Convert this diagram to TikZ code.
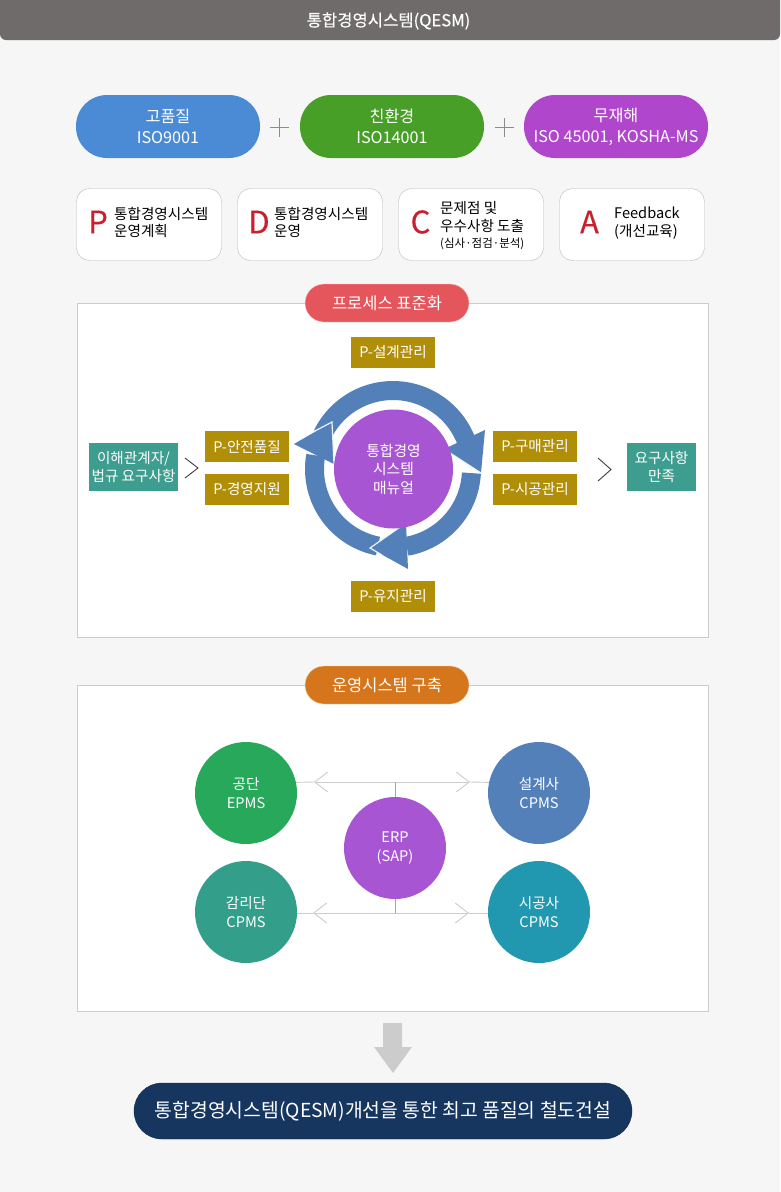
\documentclass[tikz,border=0pt]{standalone}
\usepackage{fontspec}
\setmainfont{Noto Sans CJK KR}
\newfontfamily\heavyfont[FakeBold=0.35]{Noto Sans CJK KR}
\usetikzlibrary{arrows.meta}
\definecolor{pagebg}{HTML}{F6F6F6}
\definecolor{headbar}{HTML}{6F6B6B}
\definecolor{pillblue}{HTML}{4B8BD6}
\definecolor{pillgreen}{HTML}{479F27}
\definecolor{pillpurple}{HTML}{B046CC}
\definecolor{pillred}{HTML}{E5565C}
\definecolor{pillorange}{HTML}{D5761C}
\definecolor{pillnavy}{HTML}{163660}
\definecolor{letterred}{HTML}{C8202F}
\definecolor{goldbox}{HTML}{B08E08}
\definecolor{tealbox}{HTML}{3D9D8E}
\definecolor{ringblue}{HTML}{5480BA}
\definecolor{corepurple}{HTML}{A855D3}
\definecolor{circgreen}{HTML}{27A85A}
\definecolor{circteal}{HTML}{339E8A}
\definecolor{circcyan}{HTML}{2298B0}
\definecolor{panelline}{HTML}{CCCCCC}
\definecolor{ringedge}{HTML}{EAF6FB}
\newcommand{\pxfont}[1]{\fontsize{#1}{#1}\selectfont}
\tikzset{
	pill/.style={fill=#1,text=white,minimum width=184pt,minimum height=63pt,rounded corners=31pt,inner sep=0pt,align=center,font=\fontsize{16.2}{21}\selectfont},
	tagpill/.style={fill=#1,draw=white!70!#1,text=white,minimum width=164pt,minimum height=38pt,rounded corners=19pt,inner sep=0pt,font=\pxfont{16.5}},
	pdcabox/.style={fill=white,draw=black!28,minimum width=145pt,minimum height=72pt,rounded corners=13pt,inner sep=0pt},
	pdcaletter/.style={text=letterred,inner sep=0pt,font=\heavyfont\pxfont{31}},
	pdcatext/.style={text=black,inner sep=0pt,align=left,font=\fontsize{14.6}{17.5}\selectfont},
	panel/.style={fill=white,draw=panelline,inner sep=0pt},
	goldtag/.style={fill=goldbox,text=white,minimum width=84pt,minimum height=31pt,inner sep=0pt,font=\pxfont{14.6}},
	tealtag/.style={fill=tealbox,text=white,minimum height=48pt,inner sep=0pt,align=center,font=\fontsize{14.6}{18}\selectfont},
	orgcirc/.style={circle,fill=#1,text=white,minimum size=102pt,inner sep=0pt,align=center,font=\fontsize{14.6}{19}\selectfont},
	ringarc/.style={draw=ringblue,line width=19pt},
	ringhead/.style={fill=ringblue},
	ringflash/.style={draw=ringedge,line width=1.2pt},
	plusline/.style={draw=black!45,line width=.8pt},
	chevline/.style={draw=black!75,line width=.9pt},
	linkline/.style={draw=panelline,line width=.9pt},
	linkarrow/.style={linkline,-{Straight Barb[length=13pt,width=20pt,line width=.9pt]}},
	stemline/.style={draw=black!35,line width=.9pt}
}
\begin{document}
\begin{tikzpicture}[x=1pt,y=-1pt]
	\useasboundingbox[fill=pagebg] (0,0) rectangle (780,1192);
	\fill[headbar,rounded corners=6pt] (0,-10) rectangle (780,40);
	\node[text=white,inner sep=0pt,font=\heavyfont\pxfont{16.6}] (title) at (388.5,21) {통합경영시스템(QESM)};

	\node[pill=pillblue] (quality) at (168,126.5) {고품질\\ISO9001};
	\node[pill=pillgreen] (enviro) at (392,126.5) {친환경\\ISO14001};
	\node[pill=pillpurple] (safety) at (616,126.5) {무재해\\ISO 45001, KOSHA-MS};
	\draw[plusline] (270,127) -- (289,127) (279.5,118) -- (279.5,137);
	\draw[plusline] (495,127) -- (514,127) (504.5,118) -- (504.5,137);

	\node[pdcabox] (boxp) at (149,224.5) {};
	\node[pdcabox] (boxd) at (310,224.5) {};
	\node[pdcabox] (boxc) at (471,224.5) {};
	\node[pdcabox] (boxa) at (632,224.5) {};
	\node[pdcaletter] (letp) at (98,222) {P};
	\node[pdcaletter] (letd) at (259,222) {D};
	\node[pdcaletter] (letc) at (420.5,222) {C};
	\node[pdcaletter] (leta) at (589.5,222) {A};
	\node[pdcatext,anchor=west] (textp) at (114,222.5) {통합경영시스템\\운영계획};
	\node[pdcatext,anchor=west] (textd) at (274,222.5) {통합경영시스템\\운영};
	\node[pdcatext,anchor=west] (textc) at (440,225.5) {문제점 및\\[1pt]우수사항 도출\\[-2pt]{\pxfont{11.5}(심사·점검·분석)}};
	\node[pdcatext,anchor=west] (texta) at (614,223) {Feedback\\(개선교육)};

	\node[panel,minimum width=631pt,minimum height=334pt] (procpanel) at (393,470.5) {};
	\node[tagpill=pillred] (proctag) at (387,303) {프로세스 표준화};
	\node[goldtag] (design) at (393,352.5) {P-설계관리};
	\node[goldtag] (safe) at (247,446.5) {P-안전품질};
	\node[goldtag] (support) at (247,489.5) {P-경영지원};
	\node[goldtag] (purchase) at (535,446.5) {P-구매관리};
	\node[goldtag] (build) at (535,489.5) {P-시공관리};
	\node[goldtag] (upkeep) at (393,596.5) {P-유지관리};
	\node[tealtag,minimum width=89pt] (needs) at (133.5,467) {이해관계자/\\법규 요구사항};
	\node[tealtag,minimum width=69pt] (satisfy) at (661.5,467) {요구사항\\만족};
	\draw[chevline] (185,458) -- (198,468) -- (185,478);
	\draw[chevline] (598,458) -- (611,469.5) -- (598,481);

	\draw[ringarc] plot[domain=-154:-8,samples=60] ({393+78.5*cos(\x)},{469+78.5*sin(\x)});
	\draw[ringarc] plot[domain=3:80,samples=40] ({393+78.5*cos(\x)},{469+78.5*sin(\x)});
	\draw[ringarc] plot[domain=101:190,samples=40] ({393+78.5*cos(\x)},{469+78.5*sin(\x)});
	\fill[ringhead] (444,449) -- (485,430) -- (481,473) -- cycle;
	\fill[ringhead] (370,548) -- (406,523) -- (408,569) -- cycle;
	\fill[ringhead] (294,444) -- (332,422) -- (334,464) -- cycle;
	\draw[ringflash] (444,449) -- (481,473);
	\draw[ringflash] (382,555) -- (370,548) -- (406,523);
	\draw[ringflash] (313,432) -- (332,422) -- (334,464);
	\node[circle,fill=corepurple,text=white,minimum size=119pt,inner sep=0pt,align=center,font=\fontsize{14.8}{18.5}\selectfont] (manual) at (393.5,469) {통합경영\\시스템\\매뉴얼};

	\node[panel,minimum width=631pt,minimum height=326pt] (opspanel) at (393,848.5) {};
	\node[tagpill=pillorange] (opstag) at (387,685) {운영시스템 구축};
	\node[orgcirc=circgreen] (epms) at (246,793) {공단\\EPMS};
	\node[orgcirc=ringblue] (designer) at (539,793) {설계사\\CPMS};
	\node[orgcirc=circteal] (supervisor) at (246,912) {감리단\\CPMS};
	\node[orgcirc=circcyan] (builder) at (539,912) {시공사\\CPMS};
	\node[orgcirc=corepurple] (erp) at (395,848) {ERP\\(SAP)};
	\coordinate (uptop) at (395,782);
	\coordinate (upleft) at (314,782);
	\coordinate (upright) at (470,782);
	\coordinate (lowbot) at (395,913);
	\coordinate (lowleft) at (313,913);
	\coordinate (lowright) at (469,913);
	\draw[linkarrow] (uptop) -- (upleft);
	\draw[linkarrow] (uptop) -- (upright);
	\draw[linkline] (upleft) -- (epms.12);
	\draw[linkline] (upright) -- (designer.168);
	\draw[linkarrow] (lowbot) -- (lowleft);
	\draw[linkarrow] (lowbot) -- (lowright);
	\draw[linkline] (lowleft) -- (supervisor.east |- lowleft);
	\draw[linkline] (lowright) -- (builder.west |- lowright);
	\draw[stemline] (erp.north) -- (uptop);
	\draw[stemline] (erp.south) -- (lowbot);

	\fill[black!20] (383,1023) -- (402,1023) -- (402,1047) -- (412,1047) -- (393,1073) -- (374,1047) -- (383,1047) -- cycle;
	\node[fill=pillnavy,draw=pillnavy!80!black,text=white,minimum width=498pt,minimum height=56pt,rounded corners=28pt,inner sep=0pt,font=\pxfont{19.3}] (slogan) at (383,1111) {통합경영시스템(QESM)개선을 통한 최고 품질의 철도건설};
\end{tikzpicture}
\end{document}
